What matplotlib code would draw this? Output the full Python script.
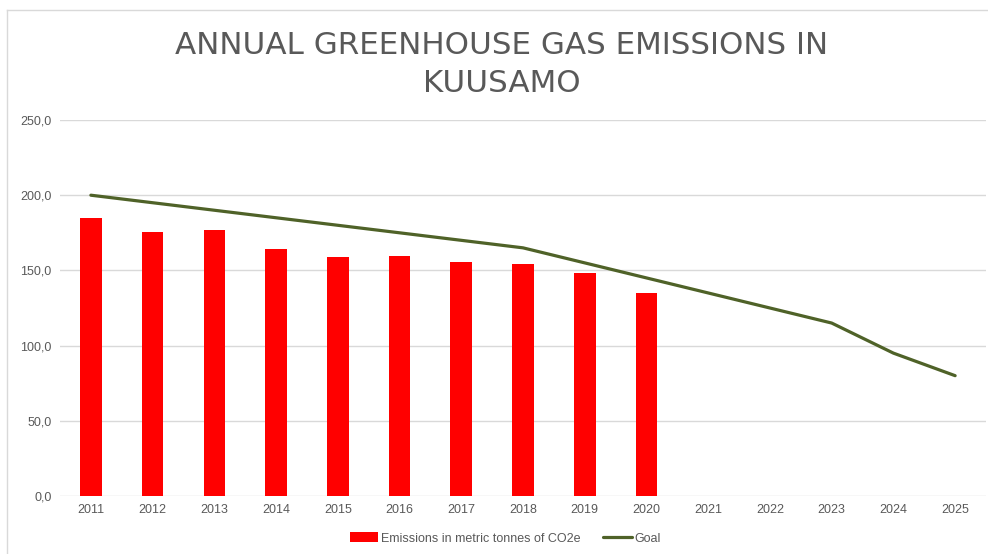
import matplotlib
matplotlib.use("Agg")
import matplotlib.pyplot as plt
import numpy as np
from matplotlib.lines import Line2D

years = ["2011", "2012", "2013", "2014", "2015", "2016", "2017", "2018",
         "2019", "2020", "2021", "2022", "2023", "2024", "2025"]
emissions = [184.7, 175.3, 177.1, 164.2, 158.7, 159.6, 155.4, 154.3, 148.3, 135.0]
goal = [200, 195, 190, 185, 180, 175, 170, 165, 155, 145, 135, 125, 115, 95, 80]
yticks = [0, 50, 100, 150, 200, 250]
title_lines = ["ANNUAL GREENHOUSE GAS EMISSIONS IN", "KUUSAMO"]

fig = plt.figure(figsize=(9.88, 5.54), dpi=100)
ax = fig.add_axes([60/988, 58/554, 926/988, 376/554])

x = np.arange(len(years))
bars = ax.bar(x[:len(emissions)], emissions, width=0.35, color="#ff0000",
              label="Emissions in metric tonnes of CO2e", zorder=3)
line, = ax.plot(x, goal, color="#4f6228", linewidth=2.3, label="Goal", zorder=4,
                solid_capstyle="round")

ax.set_xlim(-0.5, len(years) - 0.5)
ax.set_ylim(0, 250)
ax.set_yticks(yticks)
ax.set_yticklabels([f"{v:.1f}".replace(".", ",") for v in yticks])
ax.set_xticks(x)
ax.set_xticklabels(years)
ax.grid(axis="y", color="#d9d9d9", linewidth=1, zorder=0)
for s in ax.spines.values():
    s.set_visible(False)
ax.tick_params(axis="both", length=0, labelsize=9, labelcolor="#595959", pad=6)
for lab in ax.get_xticklabels() + ax.get_yticklabels():
    lab.set_fontfamily("Liberation Sans")

fig.text(502/988, 1 - 45/554, title_lines[0], ha="center", va="center",
         fontsize=22.3, color="#595959", family="DejaVu Sans")
fig.text(502/988, 1 - 84/554, title_lines[1], ha="center", va="center",
         fontsize=22.3, color="#595959", family="DejaVu Sans")

leg = ax.legend(handles=[bars, line], loc="center",
                bbox_to_anchor=((505 - 60) / 926, -0.113),
                ncol=2, frameon=False,
                prop={"family": "Liberation Sans", "size": 9},
                handlelength=2.3, handleheight=0.8, columnspacing=1.8,
                handletextpad=0.2)
for t in leg.get_texts():
    t.set_color("#595959")

fig.add_artist(Line2D([7/988, 7/988], [0, 1 - 10/554], transform=fig.transFigure,
                      color="#d9d9d9", linewidth=1))
fig.add_artist(Line2D([7/988, 1], [1 - 10/554, 1 - 10/554], transform=fig.transFigure,
                      color="#d9d9d9", linewidth=1))

fig.savefig("out.png", dpi=100)
